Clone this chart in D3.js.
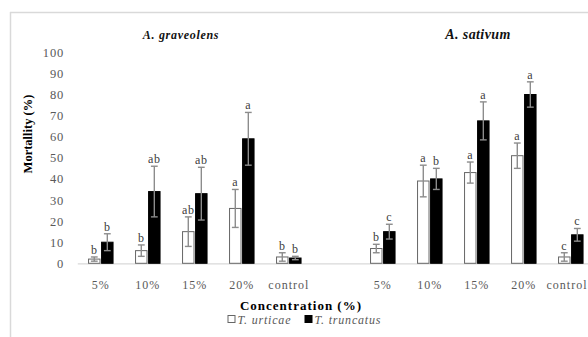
<!DOCTYPE html>
<html>
<head>
<meta charset="utf-8">
<script src="https://cdn.jsdelivr.net/npm/d3@7"></script>
<style>
  body { margin: 0; background: #fff; }
  svg { display: block; }
  svg text { font-family: "Liberation Serif", "DejaVu Serif", "Times New Roman", serif; }
</style>
</head>
<body>
<svg width="588" height="337"></svg>
<script>
// data
var groups = ['A. graveolens', 'A. sativum'];
var concentrations = ['5%', '10%', '15%', '20%', 'control'];
var seriesNames = ['T. urticae', 'T. truncatus'];

var urticaeMean = [[2, 6, 15, 26, 3], [7, 39, 43, 51, 3]];
var urticaeErr = [[1, 2.7, 7, 9, 2], [2, 7.5, 5, 6, 2]];
var urticaeLetters = [['b', 'b', 'ab', 'a', 'b'], ['b', 'a', 'a', 'a', 'c']];

var truncatusMean = [[10, 34, 33, 59, 2.5], [15, 40, 67.5, 80, 13.5]];
var truncatusErr = [[4, 12, 12.5, 12.5, 0.8], [3.5, 5, 9, 6, 3]];
var truncatusLetters = [['b', 'ab', 'ab', 'a', 'b'], ['c', 'b', 'a', 'a', 'c']];

var yTicks = [0, 10, 20, 30, 40, 50, 60, 70, 80, 90, 100];

var drawChart = function () {
    let svg = d3.select('svg');

    // frame of the figure
    svg.append('line').attr('x1', 10.5).attr('x2', 10.5).attr('y1', 12).attr('y2', 337)
        .attr('stroke', '#d9d9d9').attr('stroke-width', 1.5);
    svg.append('line').attr('x1', 10).attr('x2', 588).attr('y1', 12.5).attr('y2', 12.5)
        .attr('stroke', '#d9d9d9').attr('stroke-width', 1.5);

    // slots: 5 concentrations, one blank gap, 5 concentrations
    let slots = [];
    groups.forEach(function (g, gi) {
        concentrations.forEach(function (c, ci) {
            slots.push({ key: gi + '-' + ci, label: c, g: gi, c: ci });
        });
        if (gi < groups.length - 1) slots.push({ key: 'gap' + gi, label: '', g: -1, c: -1 });
    });
    let labelOf = {};
    slots.forEach(function (s) { labelOf[s.key] = s.label; });

    let x = d3.scaleBand()
        .domain(slots.map(function (s) { return s.key; }))
        .range([77.3, 594.3]);
    let inner = d3.scaleBand()
        .domain(seriesNames)
        .range([0, 24.5])
        .paddingInner(0.12);
    let innerOffset = (x.bandwidth() - 24.5) / 2;

    let y = d3.scaleLinear().domain([0, 100]).range([263.3, 52.3]);

    // y axis (labels only)
    let yAxis = d3.axisLeft(y).tickValues(yTicks).tickSize(0).tickPadding(13);
    let yGroup = svg.append('g').attr('transform', 'translate(77,0)').call(yAxis);
    yGroup.select('.domain').remove();
    yGroup.attr('font-family', null);
    yGroup.selectAll('text')
        .style('font-size', '12.5px').style('letter-spacing', '0.8px')
        .attr('fill', '#595959');

    // x axis
    let xAxis = d3.axisBottom(x).tickSize(0).tickPadding(17)
        .tickFormat(function (k) { return labelOf[k]; });
    let xGroup = svg.append('g').attr('transform', 'translate(0,' + y(0) + ')').call(xAxis);
    xGroup.attr('font-family', null);
    xGroup.select('.domain').attr('stroke', '#d9d9d9').attr('stroke-width', 1.2);
    xGroup.selectAll('text')
        .style('font-size', '12px').style('letter-spacing', '1px')
        .attr('fill', '#595959');
    // keep the last label inside the picture
    let lastKey = x.domain()[x.domain().length - 1];
    xGroup.selectAll('.tick')
        .filter(function (k) { return k === lastKey; })
        .select('text')
        .attr('text-anchor', 'end')
        .attr('x', 587.5 - x(lastKey) - x.bandwidth() / 2);

    // bar records
    let rows = [];
    slots.forEach(function (s) {
        if (s.g < 0) return;
        rows.push({ slot: s.key, series: seriesNames[0], v: urticaeMean[s.g][s.c],
            e: urticaeErr[s.g][s.c], t: urticaeLetters[s.g][s.c] });
        rows.push({ slot: s.key, series: seriesNames[1], v: truncatusMean[s.g][s.c],
            e: truncatusErr[s.g][s.c], t: truncatusLetters[s.g][s.c] });
    });
    let barX = function (d) { return x(d.slot) + innerOffset + inner(d.series); };
    let barMid = function (d) { return barX(d) + inner.bandwidth() / 2; };

    let plot = svg.append('g').attr('id', 'plot');
    plot.selectAll('rect.bar')
        .data(rows)
        .enter()
        .append('rect')
        .attr('class', 'bar')
        .attr('x', barX)
        .attr('width', inner.bandwidth())
        .attr('y', function (d) { return y(d.v); })
        .attr('height', function (d) { return y(0) - y(d.v); })
        .attr('fill', function (d) { return d.series === seriesNames[0] ? '#ffffff' : '#000000'; })
        .attr('stroke', function (d) { return d.series === seriesNames[0] ? '#666666' : '#000000'; })
        .attr('stroke-width', 1);

    // error bars
    let err = plot.selectAll('g.err')
        .data(rows)
        .enter()
        .append('g')
        .attr('class', 'err')
        .attr('stroke', '#8c8c8c')
        .attr('stroke-width', 1.4);
    err.append('line')
        .attr('x1', barMid).attr('x2', barMid)
        .attr('y1', function (d) { return y(d.v + d.e); })
        .attr('y2', function (d) { return y(Math.max(0, d.v - d.e)); });
    err.append('line')
        .attr('x1', function (d) { return barMid(d) - 3.4; })
        .attr('x2', function (d) { return barMid(d) + 3.4; })
        .attr('y1', function (d) { return y(d.v + d.e); })
        .attr('y2', function (d) { return y(d.v + d.e); });
    err.append('line')
        .attr('x1', function (d) { return barMid(d) - 3.4; })
        .attr('x2', function (d) { return barMid(d) + 3.4; })
        .attr('y1', function (d) { return y(Math.max(0, d.v - d.e)); })
        .attr('y2', function (d) { return y(Math.max(0, d.v - d.e)); });

    // significance letters
    plot.selectAll('text.letter')
        .data(rows)
        .enter()
        .append('text')
        .attr('class', 'letter')
        .attr('x', barMid)
        .attr('y', function (d) { return y(d.v + d.e) - 3; })
        .attr('text-anchor', 'middle')
        .style('font-size', '12px')
        .style('letter-spacing', '0.6px')
        .attr('fill', '#404040')
        .text(function (d) { return d.t; });

    // group titles
    svg.append('text').attr('x', 181).attr('y', 39).attr('text-anchor', 'middle')
        .style('font-size', '12px').style('font-weight', 'bold')
        .style('font-style', 'italic').style('letter-spacing', '0.7px').attr('fill', '#111')
        .text(groups[0]);
    svg.append('text').attr('x', 478).attr('y', 39).attr('text-anchor', 'middle')
        .style('font-size', '14px').style('font-weight', 'bold')
        .style('font-style', 'italic').style('letter-spacing', '0.4px').attr('fill', '#111')
        .text(groups[1]);

    // axis titles
    svg.append('text')
        .attr('transform', 'translate(32,134)rotate(-90)')
        .attr('text-anchor', 'middle')
        .style('font-size', '12.5px').style('font-weight', 'bold')
        .attr('fill', '#000')
        .text('Mortallity (%)');
    svg.append('text')
        .attr('x', 301).attr('y', 309.5).attr('text-anchor', 'middle')
        .style('font-size', '13px').style('font-weight', 'bold')
        .style('letter-spacing', '1px').attr('fill', '#000')
        .text('Concentration (%)');

    // legend
    let legendX = [228, 305];
    let legend = svg.selectAll('g.legend')
        .data(seriesNames)
        .enter()
        .append('g')
        .attr('class', 'legend')
        .attr('transform', function (d, i) { return 'translate(' + legendX[i] + ',315.5)'; });
    legend.append('rect')
        .attr('width', 7).attr('height', 7)
        .attr('fill', function (d, i) { return i === 0 ? '#fff' : '#000'; })
        .attr('stroke', function (d, i) { return i === 0 ? '#666' : '#000'; })
        .attr('stroke-width', 1);
    legend.append('text')
        .attr('x', 9.5).attr('y', 8)
        .style('font-size', '12px').style('font-style', 'italic')
        .style('letter-spacing', '0.8px').attr('fill', '#595959')
        .text(function (d) { return d; });
};

drawChart();
</script>
</body>
</html>
